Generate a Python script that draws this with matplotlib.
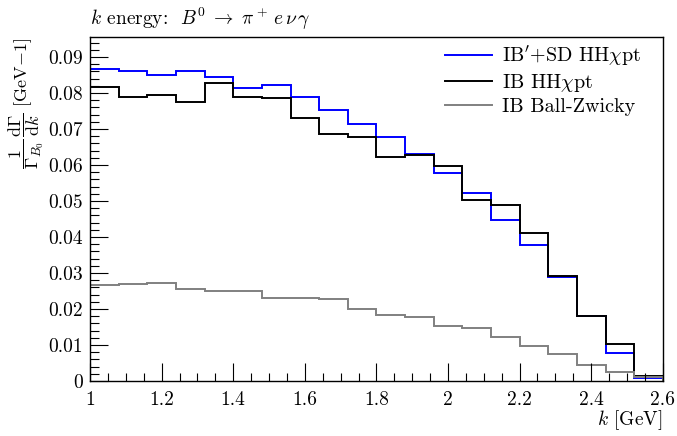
import numpy as np
import matplotlib
matplotlib.use("Agg")
import matplotlib.pyplot as plt
from matplotlib.ticker import MultipleLocator, FuncFormatter

plt.rcParams['font.family'] = ['cmr10', 'DejaVu Serif']
plt.rcParams['mathtext.fontset'] = 'cm'
plt.rcParams['axes.formatter.use_mathtext'] = True

# bin edges of k [GeV]
edges = [1.00, 1.08, 1.16, 1.24, 1.32, 1.40, 1.48, 1.56, 1.64, 1.72, 1.80,
         1.88, 1.96, 2.04, 2.12, 2.20, 2.28, 2.36, 2.44, 2.52, 2.60]

# IB'+SD HHchiPT
ib_sd = [0.0866, 0.0862, 0.0851, 0.0862, 0.0844, 0.0813, 0.0821, 0.0788, 0.0754, 0.0714,
         0.0679, 0.0631, 0.0577, 0.0522, 0.0447, 0.0379, 0.0288, 0.0181, 0.0077, 0.0008]
# IB HHchiPT
ib_hh = [0.0816, 0.0790, 0.0793, 0.0776, 0.0829, 0.0788, 0.0786, 0.0731, 0.0687, 0.0679,
         0.0622, 0.0627, 0.0597, 0.0503, 0.0488, 0.0410, 0.0291, 0.0181, 0.0104, 0.0015]
# IB Ball-Zwicky
ib_bz = [0.0268, 0.0269, 0.0273, 0.0255, 0.0249, 0.0251, 0.0232, 0.0231, 0.0227, 0.0201,
         0.0184, 0.0178, 0.0152, 0.0147, 0.0123, 0.0098, 0.0074, 0.0045, 0.0024, 0.0011]

labels = [r"IB$'$+SD HH$\chi$pt", r"IB HH$\chi$pt", "IB Ball-Zwicky"]
colors = ["#0000ff", "black", "#808080"]

fig = plt.figure(figsize=(6.77, 4.36), dpi=100)
ax = fig.add_axes([0.133, 0.126, 0.846, 0.788])

for vals, lab, col in zip([ib_sd, ib_hh, ib_bz], labels, colors):
    ax.stairs(vals, edges, color=col, lw=1.4, label=lab)

ax.set_xlim(1, 2.6)
ax.set_ylim(0, 0.0954)

ax.xaxis.set_major_locator(MultipleLocator(0.2))
ax.xaxis.set_minor_locator(MultipleLocator(0.05))
ax.yaxis.set_major_locator(MultipleLocator(0.01))
ax.yaxis.set_minor_locator(MultipleLocator(0.002))
ax.xaxis.set_major_formatter(FuncFormatter(lambda v, p: f"{v:g}"))
ax.yaxis.set_major_formatter(FuncFormatter(lambda v, p: f"{v:g}"))

ax.tick_params(which='both', direction='in', top=False, right=False, labelsize=14, width=0.8)
ax.tick_params(axis='y', which='major', length=13, pad=5)
ax.tick_params(axis='y', which='minor', length=6.5)
ax.tick_params(axis='x', which='major', length=13, pad=7)
ax.tick_params(axis='x', which='minor', length=5.5)
for s in ax.spines.values():
    s.set_linewidth(1)

ax.set_xlabel(r"$k$ [GeV]", fontsize=14, loc='right', labelpad=0)
ax.set_ylabel(r"$\dfrac{1}{\Gamma_{B_0}}\,\dfrac{\mathrm{d}\Gamma}{\mathrm{d}k}$ [GeV$-1$]",
              fontsize=13, loc='top', labelpad=2)
ax.set_title(r"$k$ energy:  $B^0 \;\rightarrow\; \pi^+\, e\, \nu\, \gamma$", fontsize=14,
             loc='left', x=0.0, pad=9)

ax.legend(loc='upper right', bbox_to_anchor=(0.983, 1.016), frameon=False, fontsize=14.5,
          handlelength=2.3, handletextpad=0.5, borderaxespad=0.2, labelspacing=0.2)

fig.savefig("out.png", dpi=100)
